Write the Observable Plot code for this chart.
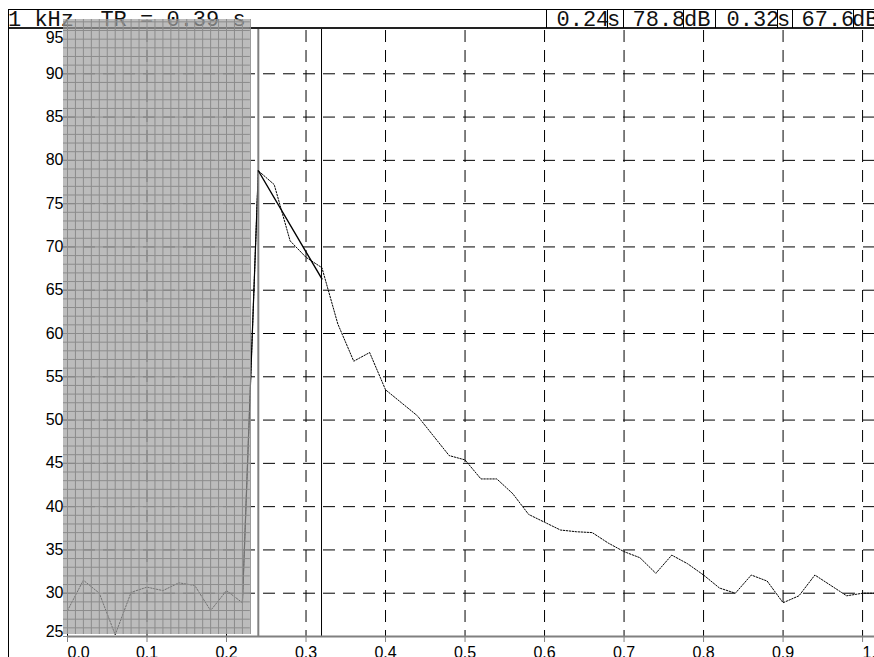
<!DOCTYPE html>
<html><head><meta charset="utf-8">
<script src="https://cdn.jsdelivr.net/npm/d3@7"></script>
<script src="https://cdn.jsdelivr.net/npm/@observablehq/plot@0.6"></script>
<style>
html,body{margin:0;padding:0;background:#fff;overflow:hidden}
#wrap{position:relative;width:874px;height:657px}
#frame{position:absolute;left:8px;top:9px;width:1px;height:648px;background:#000;pointer-events:none}
</style>
</head><body><div id="wrap"><div id="chart"></div><div id="frame"></div></div>
<script>
// ---- data ----
const times  = [0.00,0.02,0.04,0.06,0.08,0.10,0.12,0.14,0.16,0.18,0.20,0.22,0.24,0.26,0.28,0.30,0.32,0.34,0.36,0.38,0.40,0.42,0.44,0.46,0.48,0.50,0.52,0.54,0.56,0.58,0.60,0.62,0.64,0.66,0.68,0.70,0.72,0.74,0.76,0.78,0.80,0.82,0.84,0.86,0.88,0.90,0.92,0.94,0.96,0.98,1.00,1.02];
const levels = [28.0,31.5,30.0,25.2,30.1,30.7,30.3,31.2,30.9,28.0,30.3,28.9,78.8,77.2,70.7,68.8,67.6,61.1,56.8,57.8,53.5,52.0,50.5,48.2,45.9,45.4,43.2,43.2,41.5,39.1,38.2,37.3,37.1,37.0,35.8,34.8,34.1,32.3,34.4,33.4,32.1,30.6,30.0,32.1,31.4,28.9,29.7,32.1,30.9,29.7,30.0,30.0];
const fitTimes  = [0.24, 0.32];
const fitLevels = [78.8, 66.3];
const cursorA = 0.24, cursorB = 0.32;
const noiseEnd = 0.23;
const xTicks = [0.0,0.1,0.2,0.3,0.4,0.5,0.6,0.7,0.8,0.9,1.0];
const xTickLabels = ["0.0","0.1","0.2","0.3","0.4","0.5","0.6","0.7","0.8","0.9","1.0"];
const yTicks = [25,30,35,40,45,50,55,60,65,70,75,80,85,90,95];
const headerTitle = "1 kHz  TR = 0.39 s";
const headerCells = ["0.24","s","78.8","dB","0.32","s","67.6","dB"];

(function () {
const curve = times.map((t, i) => ({t, v: levels[i]}));
const rise = curve.filter(d => d.t >= 0.22 && d.t <= 0.24);
const fit = fitTimes.map((t, i) => ({t, v: fitLevels[i]}));
const xMin = 0, xMax = 1.015, yMin = 25, yMax = 95;
const dash = "12,8";
const fineX = d3.range(0, noiseEnd + 1e-9, 0.01);
const fineY = d3.range(yMin, yMax + 2, 1);
const xi = (d) => xTicks.indexOf(d);

const chart = Plot.plot({
  width: 874, height: 657,
  marginLeft: 67, marginRight: 0, marginTop: 30, marginBottom: 21,
  style: {fontFamily: "'Liberation Sans', Arial, sans-serif", fontSize: "16px", background: "#fff"},
  x: {domain: [xMin, xMax], axis: null},
  y: {domain: [yMin, yMax], axis: null},
  marks: [
    Plot.ruleY(yTicks.filter(d => d > yMin && d < yMax), {stroke: "#000", strokeWidth: 1, strokeDasharray: dash, insetLeft: -4}),
    Plot.ruleX(xTicks.filter(d => d > xMin), {stroke: "#000", strokeWidth: 1, strokeDasharray: dash}),
    Plot.ruleX([xMin], {stroke: "#000", strokeWidth: 1}),
    Plot.line(curve, {x: "t", y: "v", stroke: "#000", strokeWidth: 1, strokeDasharray: "1.5,1.5"}),
    Plot.line(rise, {x: "t", y: "v", stroke: "#000", strokeWidth: 1.2}),
    Plot.rect([{a: xMin, b: noiseEnd}], {x1: "a", x2: "b", y1: yMax, y2: yMin, insetLeft: -4, insetTop: -11, insetBottom: 2, fill: "#a0a0a0", fillOpacity: 0.7}),
    Plot.ruleX(fineX, {y1: yMax, y2: yMin, insetTop: -11, insetBottom: 2, stroke: "#8c8c8c", strokeWidth: 1}),
    Plot.ruleY(fineY, {x1: xMin, x2: noiseEnd, insetLeft: -4, stroke: "#8c8c8c", strokeWidth: 1}),
    Plot.ruleX([cursorA], {y1: yMax, y2: yMin, insetTop: -1, stroke: "#808080", strokeWidth: 2}),
    Plot.ruleX([cursorB], {y1: yMax, y2: yMin, insetTop: -1, dx: -0.4, stroke: "#000", strokeWidth: 1}),
    Plot.line(fit, {x: "t", y: "v", stroke: "#000", strokeWidth: 1.4}),
    Plot.ruleY([yMin], {stroke: "#808080", strokeWidth: 2}),
    Plot.ruleX(xTicks, {y1: yMin, y2: yMin, insetBottom: -6, stroke: "#808080", strokeWidth: 1}),
    Plot.text(yTicks.filter(d => d > yMin && d < yMax), {y: d => d, text: d => String(d), frameAnchor: "left", textAnchor: "end", dx: -4, fill: "#000"}),
    Plot.text([yMax], {y: d => d, text: d => String(d), frameAnchor: "left", textAnchor: "end", dx: -4, dy: 7, fill: "#000"}),
    Plot.text([yMin], {y: d => d, text: d => String(d), frameAnchor: "left", textAnchor: "end", dx: -4, dy: -5, fill: "#000"}),
    Plot.text(xTicks.filter(d => d > xMin && d < 1), {x: d => d, text: d => xTickLabels[xi(d)], frameAnchor: "bottom", lineAnchor: "top", dy: 10, fill: "#000"}),
    Plot.text([xTicks[0], xTicks[xTicks.length - 1]], {x: d => d, text: d => xTickLabels[xi(d)], frameAnchor: "bottom", lineAnchor: "top", textAnchor: "start", dy: 10, fill: "#000"})
  ]
});

document.getElementById("chart").appendChild(chart);

// ---- header strip (below the plot marks so the shaded block covers it) ----
const svg = d3.select(chart);
const hdr = svg.insert("g", ":first-child").attr("class", "header").attr("text-anchor", "start");
const hTop = 9.5, hBot = 28;
hdr.append("rect").attr("x", 8.5).attr("y", hTop).attr("width", 880).attr("height", hBot - hTop)
  .attr("fill", "#fff").attr("stroke", "#000").attr("stroke-width", 1);
hdr.append("line").attr("x1", 8).attr("x2", 874).attr("y1", hBot).attr("y2", hBot)
  .attr("stroke", "#222").attr("stroke-width", 2);
const seps = [546.5, 607.5, 623.5, 683.5, 715.5, 777.5, 792.5, 853.5];
seps.forEach(x => hdr.append("line").attr("x1", x).attr("x2", x).attr("y1", hTop).attr("y2", hBot)
  .attr("stroke", "#000").attr("stroke-width", 1));
const mono = "'Liberation Mono', 'Courier New', monospace";
hdr.append("text").attr("x", 8).attr("y", 25.5).attr("text-anchor", "start").attr("font-family", mono).attr("font-size", 22)
  .style("white-space", "pre").attr("fill", "#111").text(headerTitle);
const cellX = [556.5, 607, 632.5, 684, 726.5, 777, 801.5, 852];
const cellClip = [null, null, null, 712, null, null, null, null];
headerCells.forEach((s, i) => {
  let g = hdr;
  if (cellClip[i]) {
    g = hdr.append("svg").attr("x", 0).attr("y", 0).attr("width", cellClip[i]).attr("height", 40).attr("overflow", "hidden");
  }
  g.append("text").attr("x", cellX[i]).attr("y", 25.5).attr("text-anchor", "start").attr("font-family", mono).attr("font-size", 22)
    .attr("fill", "#111").text(s);
});
})();
</script></body></html>
